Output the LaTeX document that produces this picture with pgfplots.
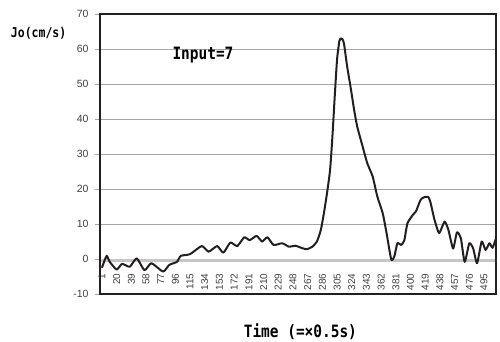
\documentclass[border=0pt]{standalone}
\usepackage{fontspec}
\setmainfont{Liberation Sans}
\newfontfamily\labfont[FakeStretch=0.85]{DejaVu Sans Mono}
\usepackage{pgfplots}
\pgfplotsset{compat=1.18}
\definecolor{gridgray}{HTML}{A6A6A6}
\definecolor{framec}{HTML}{231F20}
\definecolor{ticktext}{HTML}{404040}
\begin{document}
\begin{tikzpicture}
\useasboundingbox (-100pt,-47pt) rectangle (400pt,294pt);
\begin{axis}[
  at={(0,0)}, anchor=south west,
  width=396pt, height=280pt, scale only axis,
  xmin=-1.5, xmax=510.5, ymin=-10, ymax=70,
  xtick={1,20,...,495},
  ytick={-10,0,...,70},
  ymajorgrids,
  major grid style={gridgray, line width=1pt},
  axis line style={framec, line width=1.5pt},
  ytick pos=left, tick align=outside, major tick length=5pt,
  xtick style={draw=none},
  ytick style={draw=gridgray, line width=1pt},
  /pgf/number format/assume math mode=true,
  yticklabel style={font=\fontsize{10.5}{12}\selectfont, text=ticktext, xshift=-3pt},
  xticklabel style={font=\fontsize{10}{12}\selectfont, text=ticktext, yshift=29pt, rotate=90, anchor=east},
  every axis y label/.style={at={(rel axis cs:-0.155,0.932)}, anchor=center, font=\labfont\bfseries\fontsize{13.5}{15}\selectfont},
  ylabel={Jo(cm/s)},
  every axis x label/.style={at={(rel axis cs:0.506,-0.136)}, anchor=center, font=\labfont\bfseries\fontsize{17}{19}\selectfont},
  xlabel={Time (=×0.5s)},
]
\addplot[gray!45, line width=3pt, dash pattern=on 0.45pt off 0.35pt, forget plot] coordinates {(-1.5,-0.45) (510.5,-0.45)};
\addplot[framec, line width=2pt, line join=round, smooth, tension=0.35] table {
x y
1 -2.5
7 0.9
11 -0.8
20 -3
27 -1.4
37 -2.2
46 0.2
56 -3.2
65 -1.2
80 -3.6
88 -1.7
98 -0.8
103 0.9
115 1.4
130 3.7
139 2.1
150 3.7
158 1.8
167 4.7
176 3.7
185 6.2
192 5.4
201 6.6
208 5.0
215 6.2
223 4.0
234 4.5
243 3.5
251 3.8
260 3.1
266 2.8
273 3.5
279 5.0
284 8.3
288 13.1
292 18.8
296 25.5
299 35
302 46.5
305 57
308 62.3
310 63
312 62.8
314 61.5
318 55.1
323 48.4
327 42.7
331 37.9
338 32.2
344 27.4
351 23.6
357 17.9
364 13.1
369 7.4
375 -0.1
379 0.7
383 4.5
388 4.0
392 5.4
396 10.2
403 12.6
407 13.6
413 16.9
418 17.7
423 17.7
426 16.0
431 11.2
437 7.4
444 10.7
449 8.3
455 3.0
460 7.6
465 6.0
470 -0.8
476 4.5
481 3.0
486 -1.2
492 5.0
497 2.6
502 4.5
506 3.2
510 5.6
};
\node[anchor=west, inner sep=0pt, font=\labfont\bfseries\fontsize{17}{19}\selectfont] at (axis cs:92,58.3) {Input=7};
\draw[framec, line width=1.5pt] (rel axis cs:0,0) rectangle (rel axis cs:1,1);
\end{axis}
\end{tikzpicture}
\end{document}
